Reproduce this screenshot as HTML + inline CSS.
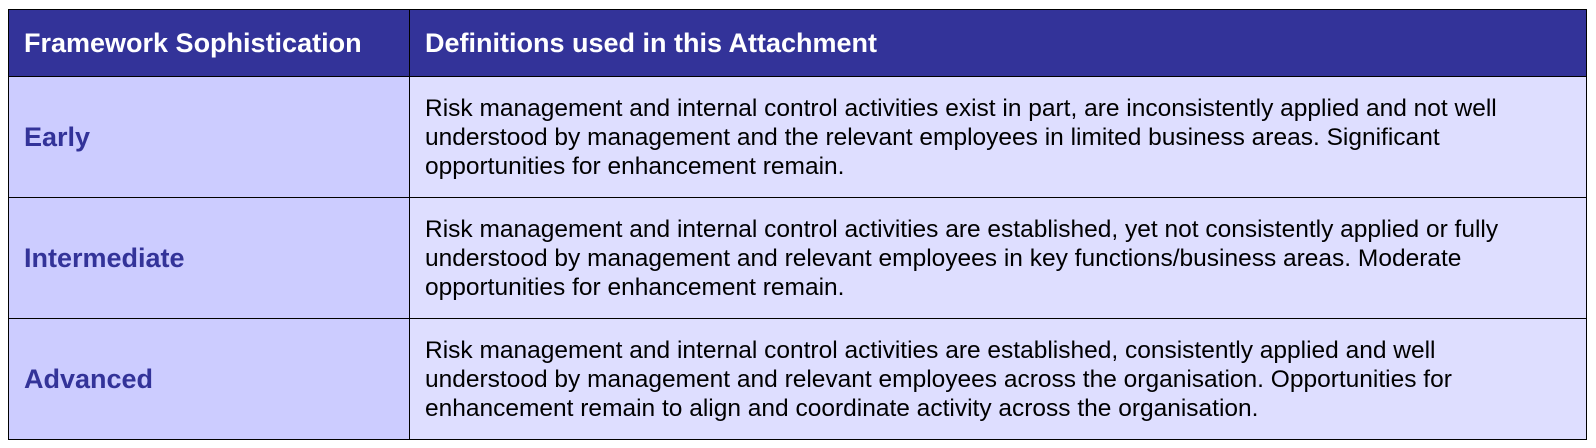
<!DOCTYPE html>
<html><head><meta charset="utf-8"><style>
html,body{margin:0;padding:0;background:#fff;width:1596px;height:448px;overflow:hidden}
table{position:absolute;left:8px;top:9px;border-collapse:collapse;font-family:"Liberation Sans",Arial,sans-serif;table-layout:fixed;width:1578px}
td,th{border:1.5px solid #000;padding:0 0 0 15px;text-align:left;vertical-align:middle;white-space:nowrap}
th{background:#333399;color:#fff;font-size:27px;font-weight:bold;height:66px}
td.l{background:#ccccff;color:#333399;font-weight:bold;font-size:27px}
td.r{background:#dedeff;color:#000;font-size:24.5px;line-height:29px;height:120px}
</style></head><body>
<table>
<colgroup><col style="width:401px"><col style="width:1177px"></colgroup>
<tr><th>Framework Sophistication</th><th>Definitions used in this Attachment</th></tr>
<tr><td class="l">Early</td><td class="r">Risk management and internal control activities exist in part, are inconsistently applied and not well<br>understood by management and the relevant employees in limited business areas. Significant<br>opportunities for enhancement remain.</td></tr>
<tr><td class="l">Intermediate</td><td class="r">Risk management and internal control activities are established, yet not consistently applied or fully<br>understood by management and relevant employees in key functions/business areas. Moderate<br>opportunities for enhancement remain.</td></tr>
<tr><td class="l">Advanced</td><td class="r">Risk management and internal control activities are established, consistently applied and well<br>understood by management and relevant employees across the organisation. Opportunities for<br>enhancement remain to align and coordinate activity across the organisation.</td></tr>
</table>
</body></html>
